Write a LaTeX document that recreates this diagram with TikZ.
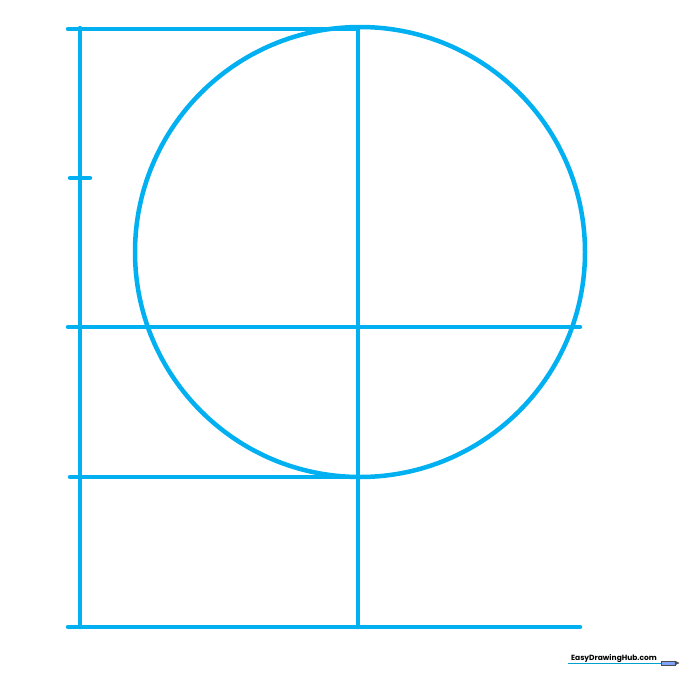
\documentclass[tikz,border=0pt]{standalone}
\usepackage{fontspec}
\setsansfont{Poppins}
\usetikzlibrary{positioning}
\definecolor{guideblue}{RGB}{0,176,240}

\begin{document}
\begin{tikzpicture}[x=1pt, y=-1pt, guide/.style = {draw=guideblue, line width=4.5pt, line cap=round}, mark line/.style = {draw=guideblue!70!teal, line width=1pt}]
	\useasboundingbox (0,0) rectangle (680,680);
	\coordinate	(TL)	at (80,28);
	\coordinate	(TM)	at (358,28);
	\coordinate	(BL)	at (80,627);
	\coordinate	(BM)	at (358,627);
	\coordinate	(O)	at (360,252);

	\path [guide]
	(TL)	-- (BL)
	(TM)	-- (BM)
	(68,29)	-- (TM |- 0,29)
	(68,327)	-- (580,327)
	(70,477)	-- (BM |- 0,477)
	(68,627)	-- (580,627)
	(70,178)	-- (90,178)
	;
	\draw [guide] (O) circle (225);

	\node	(mark)	at (614,659)	{\sffamily\fontsize{7.5}{8}\selectfont\bfseries EasyDrawingHub.com};
	\draw [mark line] (mark.south west |- 0,663) -- (661,663);
	\draw [fill=guideblue!40!blue!50, draw=black!70, line width=0.6pt] (661,661) rectangle (675,665);
	\draw [fill=black!70, draw=black!70] (675,661) -- (679,663) -- (675,665) -- cycle;
\end{tikzpicture}
\end{document}
